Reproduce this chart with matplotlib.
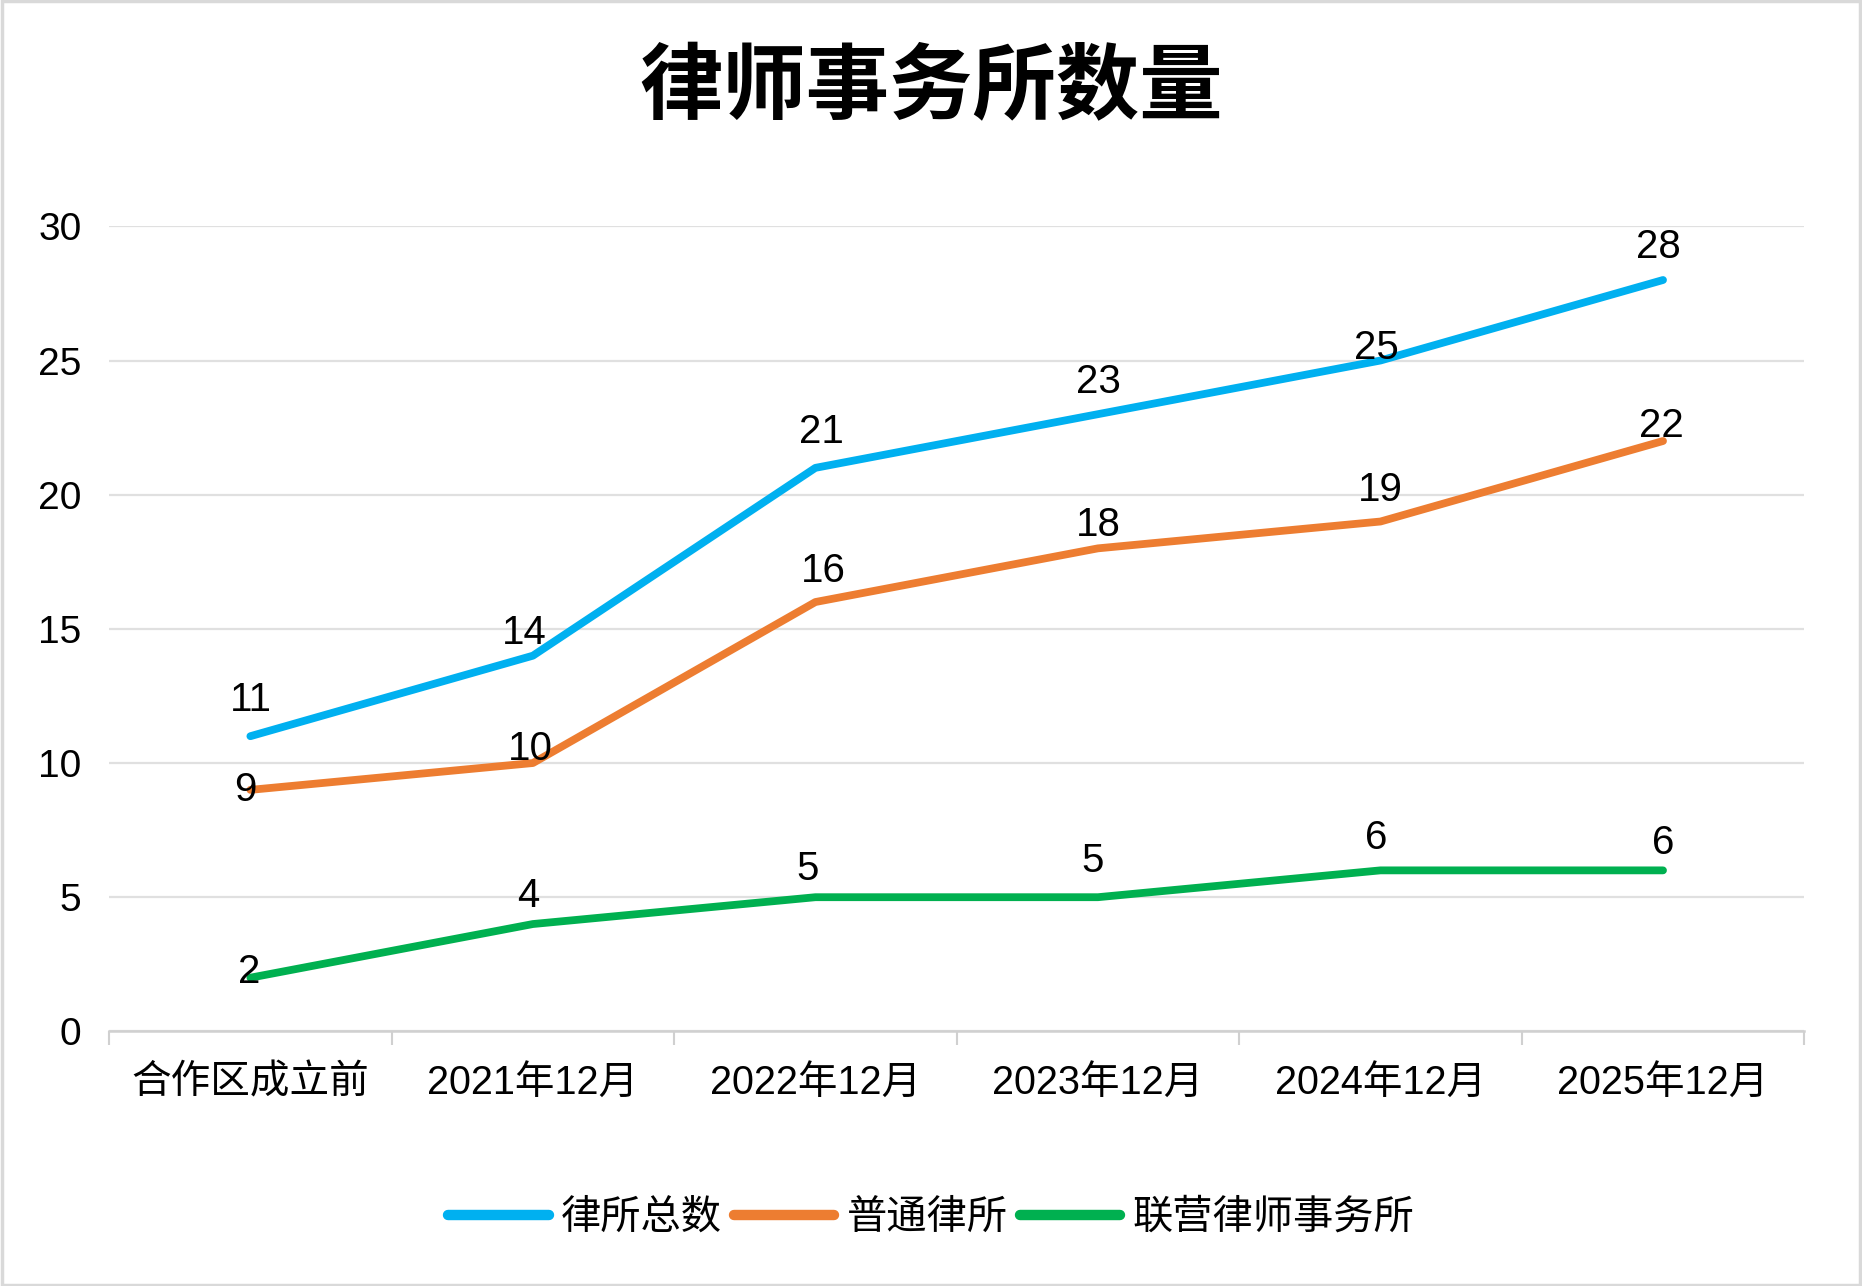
import matplotlib
matplotlib.use("Agg")
import matplotlib.pyplot as plt
from matplotlib.patches import Rectangle
from matplotlib.lines import Line2D

plt.rcParams['font.family'] = ['Liberation Sans', 'Noto Sans CJK SC', 'DejaVu Sans']

categories = ["合作区成立前", "2021年12月", "2022年12月", "2023年12月", "2024年12月", "2025年12月"]
series_names = ["律所总数", "普通律所", "联营律师事务所"]
total = [11, 14, 21, 23, 25, 28]
ordinary = [9, 10, 16, 18, 19, 22]
joint = [2, 4, 5, 5, 6, 6]
yticks = [0, 5, 10, 15, 20, 25, 30]
title = "律师事务所数量"

colors = ["#00B0F0", "#ED7D31", "#00B050"]
# label offsets (points) per series: (dx, dy)
offsets = [
    [(0, 26), (-6, 16), (4, 26), (0, 23), (-3, 9), (-3, 24)],
    [(-4, 0), (-2, 10), (6, 22), (0, 17), (0, 23), (-1, 11)],
    [(-1, 4), (-3, 20), (-6, 20), (-4, 26), (-3, 23), (0, 20)],
]

fig = plt.figure(figsize=(18.62, 12.86), dpi=100)
ax = fig.add_axes([0.0586, 0.198, 0.969 - 0.0586, 0.824 - 0.198])

x = list(range(len(categories)))
for vals, col, name, offs in zip([total, ordinary, joint], colors, series_names, offsets):
    ax.plot(x, vals, color=col, lw=5.6, solid_capstyle='round', solid_joinstyle='round', label=name, zorder=3)
    for xi, v, (dx, dy) in zip(x, vals, offs):
        ax.annotate(str(v), (xi, v), xytext=(dx, dy), textcoords='offset points',
                    ha='center', va='center', fontsize=29, color='black', zorder=4)

ax.set_xlim(-0.5, len(categories) - 0.5)
ax.set_ylim(0, 30)
ax.set_yticks(yticks)
ax.set_yticklabels([str(t) for t in yticks], fontsize=28)
ax.set_xticks(x)
ax.set_xticklabels(categories, fontsize=28.5)
ax.set_xticks([i - 0.5 for i in range(len(categories) + 1)], minor=True)
ax.tick_params(axis='x', which='major', length=0, pad=23)
ax.tick_params(axis='x', which='minor', length=10, width=1.5, color='#d0d0d0', direction='out')
ax.tick_params(axis='y', length=0, pad=20)
ax.grid(axis='y', color='#e0e0e0', lw=1.6, zorder=0)
for s in ['top', 'right', 'left']:
    ax.spines[s].set_visible(False)
ax.spines['bottom'].set_color('#d0d0d0')
ax.spines['bottom'].set_linewidth(1.8)
ax.spines['bottom'].set_zorder(2)

fig.text(0.5, 0.931, title, ha='center', va='center', fontsize=60, fontweight='bold',
         family=['Noto Sans CJK SC'])

handles = [Line2D([0], [0], color=c, lw=7.5, solid_capstyle='round') for c in colors]
fig.legend(handles, series_names, loc='center', bbox_to_anchor=(0.5, 0.053), ncol=3,
           frameon=False, fontsize=29, handlelength=2.5, handletextpad=0.3, columnspacing=0.3)

fig.patches.append(Rectangle((0.001, 0.001), 0.998, 0.998, transform=fig.transFigure,
                             fill=False, edgecolor='#d9d9d9', lw=2.5))

fig.savefig("out.png", dpi=100)
